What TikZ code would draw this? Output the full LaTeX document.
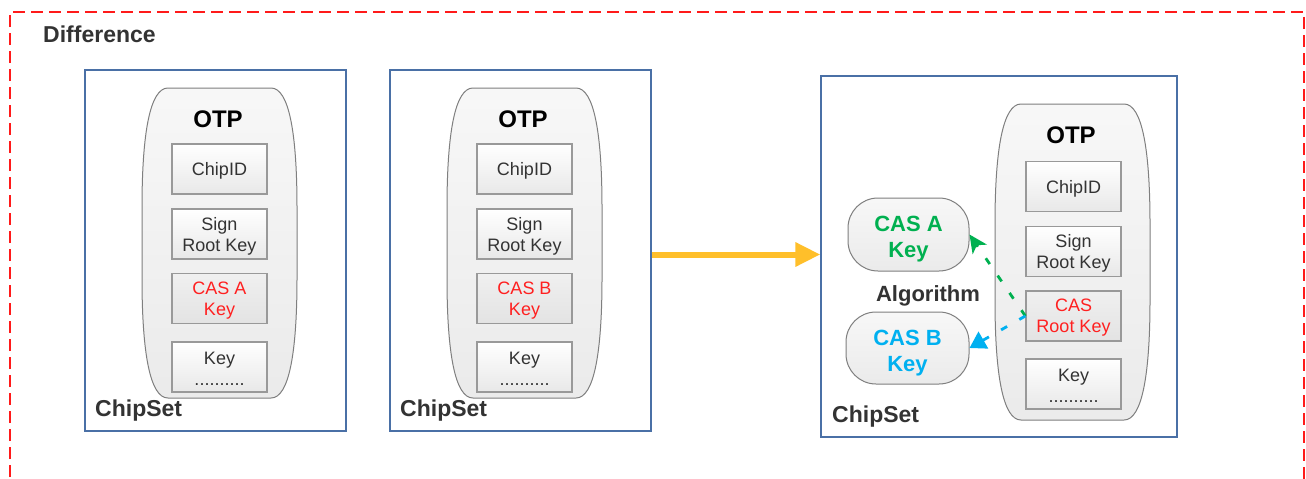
\documentclass[tikz,border=0pt]{standalone}
\usepackage{fontspec}
\setmainfont{Liberation Sans}
\usetikzlibrary{arrows.meta}
\definecolor{framered}{HTML}{FF1A1A}
\definecolor{chipblue}{HTML}{4A70A6}
\definecolor{shellgray}{HTML}{7F7F7F}
\definecolor{boxgray}{HTML}{999999}
\definecolor{inkgray}{HTML}{333333}
\definecolor{keyred}{HTML}{FF2020}
\definecolor{casgreen}{HTML}{00B050}
\definecolor{casblue}{HTML}{00B0F0}
\definecolor{flowyellow}{HTML}{FFBF2A}
\tikzset{
  title/.style={font=\fontsize{23}{26}\selectfont\bfseries, text=inkgray, inner sep=0pt},
  otptitle/.style={font=\fontsize{24}{26}\selectfont\bfseries, text=black, inner sep=0pt},
  chipset/.style={draw=chipblue, line width=1.2pt, fill=white, inner sep=0pt},
  shell/.style={draw=shellgray, line width=1pt, top color=white!97!black, bottom color=white!92!black},
  keybox/.style={draw=boxgray, line width=1.3pt, top color=white, bottom color=white!91!black,
    minimum width=95pt, minimum height=50pt, inner sep=0pt},
  casbox/.style={keybox, top color=white!94!black, bottom color=white!89!black},
  keytext/.style={align=center, inner sep=0pt, yshift=-2pt,
    font=\fontsize{18}{21}\selectfont, text=inkgray},
  castext/.style={keytext, text=keyred},
  pill/.style={draw=shellgray, line width=1pt, rounded corners=30pt, top color=white!97!black,
    bottom color=white!92!black, inner sep=0pt},
  pilltext/.style={align=center, inner sep=0pt, yshift=-5pt,
    font=\fontsize{22}{26}\selectfont\bfseries},
  flow/.style={draw=flowyellow, line width=6pt, -{Triangle[length=25pt,width=23pt]}},
  derive/.style={line width=2.8pt, dash pattern=on 7pt off 14pt},
}
% OTP container: flat top and bottom, softly swelling sides
\newcommand\otpshell[4]{%
  \path[shell] ({#1+26},#3) -- ({#2-26},#3)
    .. controls ({#2-8},#3) and (#2,{#3+45}) .. (#2,{#3+120})
    -- (#2,{#4-120})
    .. controls (#2,{#4-45}) and ({#2-8},#4) .. ({#2-26},#4)
    -- ({#1+26},#4)
    .. controls ({#1+8},#4) and (#1,{#4-45}) .. (#1,{#4-120})
    -- (#1,{#3+120})
    .. controls (#1,{#3+45}) and ({#1+8},#3) .. ({#1+26},#3) -- cycle;}
\begin{document}
\begin{tikzpicture}[x=1pt,y=-1pt]
\useasboundingbox (0,0) rectangle (1306,479);
\clip (0,0) rectangle (1306,479);
\fill[white] (0,0) rectangle (1306,479);

% outer dashed frame
\draw[framered, line width=1.2pt, dash pattern=on 12pt off 6pt]
  (10,495) -- (10,12) -- (1304,12) -- (1304,495);
\node[title, anchor=west] (diff) at (43,34) {Difference};

% ---- first chipset ----
\node[chipset, minimum width=261pt, minimum height=361pt] (cs1) at (215.5,250.5) {};
\otpshell{142}{297}{88}{398}
\node[otptitle] (otp1) at (218,119) {OTP};
\node[keybox, label={[keytext]center:ChipID}]              (id1)   at (219.5,169)   {};
\node[keybox, label={[keytext]center:{Sign\\Root Key}}]    (sign1) at (219.5,234)   {};
\node[casbox, label={[castext]center:{CAS A\\Key}}]        (cas1)  at (219.5,298.5) {};
\node[keybox, label={[keytext]center:{Key\\..........}}]   (key1)  at (219.5,367)   {};
\node[title, anchor=west] (lbl1) at (95,411) {ChipSet};

% ---- second chipset ----
\node[chipset, minimum width=261pt, minimum height=361pt] (cs2) at (520.5,250.5) {};
\otpshell{447}{602}{88}{398}
\node[otptitle] (otp2) at (523,119) {OTP};
\node[keybox, label={[keytext]center:ChipID}]              (id2)   at (524.5,169)   {};
\node[keybox, label={[keytext]center:{Sign\\Root Key}}]    (sign2) at (524.5,234)   {};
\node[casbox, label={[castext]center:{CAS B\\Key}}]        (cas2)  at (524.5,298.5) {};
\node[keybox, label={[keytext]center:{Key\\..........}}]   (key2)  at (524.5,367)   {};
\node[title, anchor=west] (lbl2) at (400,411) {ChipSet};

% ---- unified chipset ----
\node[chipset, minimum width=356pt, minimum height=361pt] (cs3) at (999,256.5) {};
\otpshell{995}{1150}{104}{420}
\node[otptitle] (otp3) at (1071,135) {OTP};
\node[keybox, label={[keytext]center:ChipID}]              (id3)   at (1073.5,186.5) {};
\node[keybox, label={[keytext]center:{Sign\\Root Key}}]    (sign3) at (1073.5,251.5) {};
\node[casbox, label={[castext]center:{CAS\\Root Key}}]     (casr)  at (1073.5,316)   {};
\node[keybox, label={[keytext]center:{Key\\..........}}]   (key3)  at (1073.5,384)   {};
\node[title, anchor=west] (lbl3) at (832,417) {ChipSet};

\node[pill, minimum width=121pt, minimum height=73pt,
      label={[pilltext, text=casgreen]center:{CAS A\\Key}}] (pa) at (908.5,234.5) {};
\node[pill, minimum width=123pt, minimum height=72pt,
      label={[pilltext, text=casblue]center:{CAS B\\Key}}]  (pb) at (907.5,348)   {};
\node[title, font=\fontsize{22}{26}\selectfont\bfseries] (algo) at (928,296) {Algorithm};

% key derivation
\draw[derive, casgreen, -{Stealth[length=18pt,width=17pt,inset=5pt]}] (casr.west) -- (pa.east);
\draw[derive, casblue, -{Triangle[length=16pt,width=19pt]}] (casr.west) -- (pb.east);

% migration arrow
\coordinate (flowend) at ([yshift=2pt]cs3.west);
\draw[flow] (cs2.east |- flowend) -- (flowend);
\end{tikzpicture}
\end{document}
